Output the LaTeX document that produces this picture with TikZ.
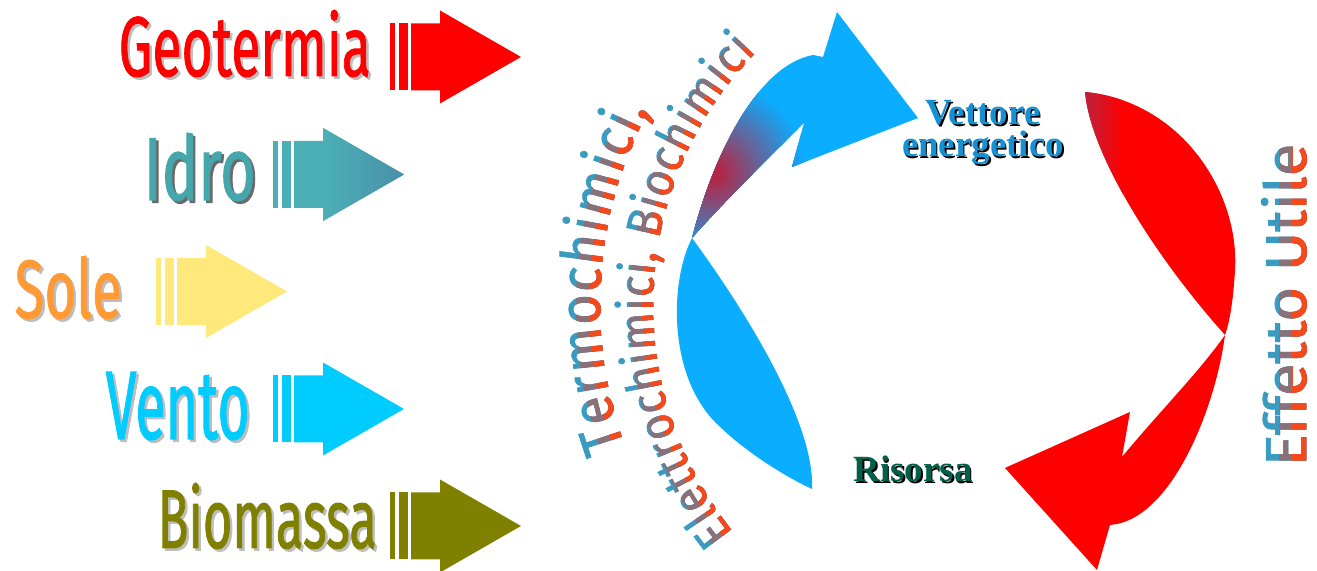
\documentclass[tikz,border=0pt]{standalone}
\usepackage{fontspec}
\usepackage{graphicx}
\setmainfont{Liberation Serif}
\newfontfamily\comicfont{Fira Sans}[FakeStretch=0.9, FakeBold=1.2]
\usetikzlibrary{decorations.text}

\definecolor{geored}{HTML}{FF0000}
\definecolor{idroteal}{HTML}{4BB0B6}
\definecolor{idrodark}{HTML}{4A8FA8}
\definecolor{idrotext}{HTML}{45A6AC}
\definecolor{soleyellow}{HTML}{FFE97A}
\definecolor{soleorange}{HTML}{FF9A35}
\definecolor{ventocyan}{HTML}{00CCFF}
\definecolor{bioolive}{HTML}{808000}
\definecolor{cycleblue}{HTML}{0BADFF}
\definecolor{bandcrimson}{HTML}{B02848}
\definecolor{tealtop}{HTML}{3A9AC0}
\definecolor{midgrey}{HTML}{8A7078}
\definecolor{orangebot}{HTML}{F5491C}
\definecolor{vettoreblue}{HTML}{1590D2}
\definecolor{risorsagreen}{HTML}{00604A}
\definecolor{shadowgrey}{HTML}{BDBDBD}
\definecolor{shadowdark}{HTML}{6A6A6A}

\tikzset{
  pics/sourcearrow/.style={code={
    \fill (-131,-33.5) rectangle (-126,33.5);
    \fill (-122,-33.5) rectangle (-113,33.5);
    \fill (-110,-33.5) -- (-81,-33.5) -- (-81,-46.5) -- (0,0)
      -- (-81,46.5) -- (-81,33.5) -- (-110,33.5) -- cycle;
  }},
  sourcename/.style={inner sep=0pt, anchor=base west, font=\comicfont},
  cyclename/.style={inner sep=0pt, anchor=base, font=\fontsize{10.5}{12}\selectfont\bfseries}
}

\begin{document}
\begin{tikzpicture}[x=0.01cm, y=0.01cm]
  \useasboundingbox (0,0) rectangle (1317,571);

  % energy sources with their arrows
  \foreach \src/\tip/\mid/\lx/\ly/\lw/\lh/\tcol/\acol/\scol in {
      Geotermia/521/514/118/495/2.52/0.66/geored/geored/shadowgrey,
      Idro/404/396.5/143/371/1.12/0.67/idrotext/idroteal/shadowdark,
      Sole/287/279.5/14/253/1.07/0.62/soleorange/soleyellow/shadowgrey,
      Vento/404/162/105/132/1.44/0.67/ventocyan/ventocyan/shadowgrey,
      Biomassa/521/45/157/23/2.19/0.65/bioolive/bioolive/shadowgrey} {
    \pic[fill=\acol] at (\tip,\mid) {sourcearrow};
    \node[sourcename, text=\scol] (\src-shadow) at (\lx+2.5,\ly-2.5) {\resizebox{\lw cm}{\lh cm}{\src}};
    \node[sourcename, text=\tcol] (\src) at (\lx,\ly) {\resizebox{\lw cm}{\lh cm}{\src}};
  }
  % darker tip on the Idro arrow
  \shade[left color=idroteal, right color=idrodark] (323,443) -- (404,396.5) -- (323,350) -- cycle;

  % blue half of the cycle
  \fill[cycleblue] (692,333) .. controls (670,290) and (668,200) .. (713,151)
    .. controls (745,118) and (790,92) .. (812,82)
    .. controls (815,140) and (760,240) .. (692,333) -- cycle;
  \fill[cycleblue, path picture={
      \foreach \k in {0,...,17} {
        \pgfmathsetmacro\r{95-5*\k}
        \pgfmathsetmacro\p{100*\k/17}
        \fill[bandcrimson!\p!cycleblue] (714,398) circle[radius=\r];
      }}]
    (692,333) .. controls (712,410) and (755,505) .. (813,516)
    -- (823,514) -- (837,559) -- (918,453) -- (792,404) -- (804,448)
    .. controls (770,415) and (720,365) .. (692,333) -- cycle;

  % red half of the cycle
  \fill[geored, path picture={
      \foreach \k in {0,...,9} {
        \pgfmathsetmacro\p{85-9*\k}
        \fill[bandcrimson!\p!geored] (1083+4*\k,360) rectangle (1087+4*\k,490);
      }}]
    (1085,479) .. controls (1180,470) and (1240,380) .. (1235,300)
    .. controls (1233,270) and (1230,250) .. (1225,236)
    .. controls (1215,160) and (1170,50) .. (1110,46)
    -- (1097,1) -- (1005,103) -- (1130,159) -- (1122,114)
    .. controls (1160,160) and (1200,200) .. (1225,236)
    .. controls (1150,320) and (1090,420) .. (1085,479) -- cycle;

  % stages of the cycle
  \node[cyclename, text=black] (vettore-shadow) at (984.5,444.5) {Vettore};
  \node[cyclename, text=vettoreblue] (vettore) at (983,446) {Vettore};
  \node[cyclename, text=black] (energetico-shadow) at (984.5,412.5) {energetico};
  \node[cyclename, text=vettoreblue] (energetico) at (983,414) {energetico};
  \node[cyclename, anchor=base west, text=black] (risorsa-shadow) at (854.5,87.5) {Risorsa};
  \node[cyclename, anchor=base west, text=risorsagreen] (risorsa) at (853,89) {Risorsa};

  % process labels bent round the cycle, three tones from top to base
  \foreach \band/\col in {90/tealtop, 24/midgrey, 11/orangebot} {
    \pgfmathsetmacro\outerclip{415+\band}
    \pgfmathsetmacro\innerclip{362+\band}
    \begin{scope}
      \clip (1015,266) circle[radius=\outerclip];
      \path[decorate, decoration={text along path, text align=fit to path,
          text={|\fontsize{16.5}{17}\comicfont\color{\col}|Termochimici,}}]
        (1015,266) ++(200:415) arc[start angle=200, end angle=152, radius=415];
    \end{scope}
    \begin{scope}
      \clip (1015,266) circle[radius=\innerclip];
      \path[decorate, decoration={text along path, text align=fit to path,
          text={|\fontsize{14}{15}\comicfont\color{\col}|Elettrochimici, Biochimici}}]
        (1015,266) ++(219:362) arc[start angle=219, end angle=135.6, radius=362];
    \end{scope}
  }

  % useful effect
  \foreach \edge/\col in {1230/tealtop, 1279/midgrey, 1292/orangebot} {
    \begin{scope}
      \clip (\edge,100) rectangle (1317,500);
      \node[rotate=90, anchor=base, inner sep=0pt, text=\col] (effetto-\col) at (1306,266)
        {\resizebox{3.22cm}{0.45cm}{\comicfont Effetto Utile}};
    \end{scope}
  }
\end{tikzpicture}
\end{document}
